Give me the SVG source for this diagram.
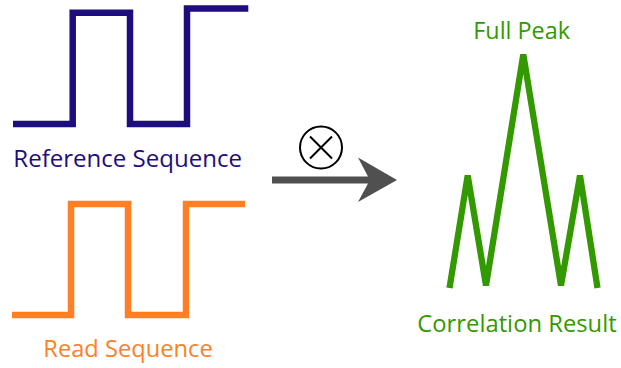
<svg xmlns="http://www.w3.org/2000/svg" width="621" height="368" viewBox="0 0 621 368">
  <style>
    .lbl { font-family: "Open Sans", Lato, "Liberation Sans", sans-serif; font-size: 23px; }
    .wave { fill: none; stroke-width: 6.5; stroke-linejoin: miter; stroke-linecap: butt; }
  </style>
  <rect width="621" height="368" fill="#ffffff"/>

  <!-- reference square wave -->
  <g id="reference">
    <path class="wave" stroke="#1e0d7c" d="M13,124 H72.7 V12.7 H130 V124 H187 V8.5 H248.3"/>
    <text class="lbl" fill="#1e0d7c" x="13.3" y="167.3" textLength="228.7" lengthAdjust="spacingAndGlyphs">Reference Sequence</text>
  </g>

  <!-- read square wave -->
  <g id="read">
    <path class="wave" stroke="#ff7f27" d="M12,315 H71 V204 H128 V315 H186 V204 H245"/>
    <text class="lbl" fill="#ff7f27" x="43.3" y="357.3" textLength="169.4" lengthAdjust="spacingAndGlyphs">Read Sequence</text>
  </g>

  <!-- correlation output -->
  <g id="result">
    <polyline fill="none" stroke="#339900" stroke-width="6.3" stroke-linejoin="bevel" points="449.5,288 467.7,175.5 486,285.5 523.3,54.5 561,285.5 580,175.5 597.5,288"/>
    <text class="lbl" fill="#339900" x="473.3" y="39.3" textLength="96.7" lengthAdjust="spacingAndGlyphs">Full Peak</text>
    <text class="lbl" fill="#339900" x="417.3" y="331.7" textLength="199.4" lengthAdjust="spacingAndGlyphs">Correlation Result</text>
  </g>

  <!-- correlation operator arrow -->
  <g id="connectors">
    <path fill="#505050" d="M272,176.5 H368 L358,157.5 L397,180 L358,202 L368,183.5 H272 Z"/>
    <g id="operator">
      <circle cx="321" cy="147.5" r="21" fill="#ffffff" stroke="#000000" stroke-width="2"/>
      <path d="M310,136.5 L332,158.5 M332,136.5 L310,158.5" stroke="#000000" stroke-width="2" fill="none"/>
    </g>
  </g>
</svg>
